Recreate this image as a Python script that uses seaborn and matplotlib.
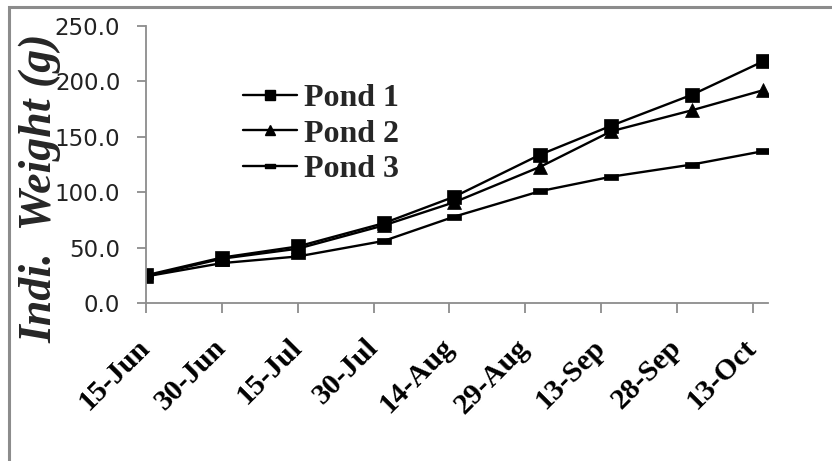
import numpy as np
import pandas as pd
import matplotlib
matplotlib.use("Agg")
import matplotlib.pyplot as plt
import matplotlib.transforms as mtransforms
from matplotlib.path import Path
from matplotlib.lines import Line2D
from matplotlib.patches import Rectangle
import seaborn as sns

# Sampling dates and individual weights (g) per pond
sample_dates = ["2013-06-15", "2013-06-30", "2013-07-15", "2013-08-01", "2013-08-15",
                "2013-09-01", "2013-09-15", "2013-10-01", "2013-10-15"]
pond1 = [25.0, 41.0, 51.0, 72.0, 96.0, 134.0, 160.0, 188.0, 218.0]
pond2 = [24.0, 40.0, 49.0, 70.0, 91.0, 123.0, 155.0, 174.0, 192.0]
pond3 = [24.0, 36.0, 42.0, 56.0, 78.0, 101.0, 114.0, 125.0, 137.0]
pond_names = ["Pond 1", "Pond 2", "Pond 3"]
y_ticks = [0, 50, 100, 150, 200, 250]

dates = pd.to_datetime(sample_dates)
df = pd.DataFrame({
    "date": np.tile(dates, 3),
    "weight": pond1 + pond2 + pond3,
    "pond": np.repeat(pond_names, len(dates)),
})

sns.set_theme(style="white")
plt.rcParams["font.family"] = ["Liberation Serif", "DejaVu Sans"]

# flat bar marker for the third series
dash = Path([(-1, -0.38), (1, -0.38), (1, 0.38), (-1, 0.38), (-1, -0.38)],
            [Path.MOVETO, Path.LINETO, Path.LINETO, Path.LINETO, Path.CLOSEPOLY])

styles = {
    "Pond 1": dict(marker="s", markersize=9.5, leg_ms=6.5),
    "Pond 2": dict(marker="^", markersize=9.5, leg_ms=6.5),
    "Pond 3": dict(marker=dash, markersize=9.5, leg_ms=6.5),
}

fig = plt.figure(figsize=(8.32, 4.61), dpi=100)
ax = fig.add_axes([146 / 832, 1 - 303 / 461, (768 - 146) / 832, (303 - 26) / 461])

for name in pond_names:
    sub = df[df["pond"] == name]
    st = styles[name]
    sns.lineplot(data=sub, x="date", y="weight", ax=ax, color="black", linewidth=1.7,
                 marker=st["marker"], markersize=st["markersize"],
                 markeredgecolor="black", markerfacecolor="black", markeredgewidth=0.5,
                 legend=False)

ax.set_xlim(pd.Timestamp("2013-06-15"), pd.Timestamp("2013-10-16"))
ax.set_ylim(0, 250)
ax.set_yticks(y_ticks)
ax.set_yticklabels([f"{v:.1f}" for v in y_ticks], fontfamily="DejaVu Sans",
                   fontsize=16.5, color="#222222")

tick_dates = pd.date_range("2013-06-15", periods=9, freq="15D")
ax.set_xticks(tick_dates)
ax.set_xticklabels([d.strftime("%d-%b") for d in tick_dates], rotation=45,
                   ha="right", va="center", rotation_mode="anchor",
                   fontsize=21.5, fontweight="bold", color="black")
shift = mtransforms.ScaledTranslation(3 / 100, 0, fig.dpi_scale_trans)
for lbl in ax.get_xticklabels():
    lbl.set_transform(lbl.get_transform() + shift)

ax.set_xlabel("")
ax.set_ylabel("")
for side in ["top", "right"]:
    ax.spines[side].set_visible(False)
for side in ["left", "bottom"]:
    ax.spines[side].set_color("#8c8c8c")
    ax.spines[side].set_linewidth(1.3)
ax.tick_params(axis="y", direction="out", length=6.5, width=1.3, color="#8c8c8c",
               left=True, pad=12)
ax.tick_params(axis="x", direction="out", length=7, width=1.3, color="#8c8c8c",
               bottom=True, pad=22)

handles = [Line2D([], [], color="black", linewidth=1.7, marker=styles[n]["marker"],
                  markersize=styles[n]["leg_ms"], markerfacecolor="black",
                  markeredgecolor="black") for n in pond_names]
ax.legend(handles, pond_names, loc="center left", bbox_to_anchor=(243 / 832, 1 - 134 / 461),
          bbox_transform=fig.transFigure, frameon=False, borderpad=0, borderaxespad=0,
          handlelength=1.7, handletextpad=0.2, labelspacing=0.2,
          prop={"family": "Liberation Serif", "weight": "bold", "size": 23})

fig.text(40 / 832, 1 - 188 / 461, "Indi.  Weight (g)", rotation=90, ha="center", va="center",
         fontsize=33, fontweight="bold", fontstyle="italic", family="Liberation Serif")

# chart-area border
fig.patches.append(Rectangle((9 / 832, -0.05), 1.0, 1 - 7 / 461 + 0.05, transform=fig.transFigure,
                             fill=False, edgecolor="#8c8c8c", linewidth=2.2))

fig.savefig("out.png", dpi=100, facecolor="white")
